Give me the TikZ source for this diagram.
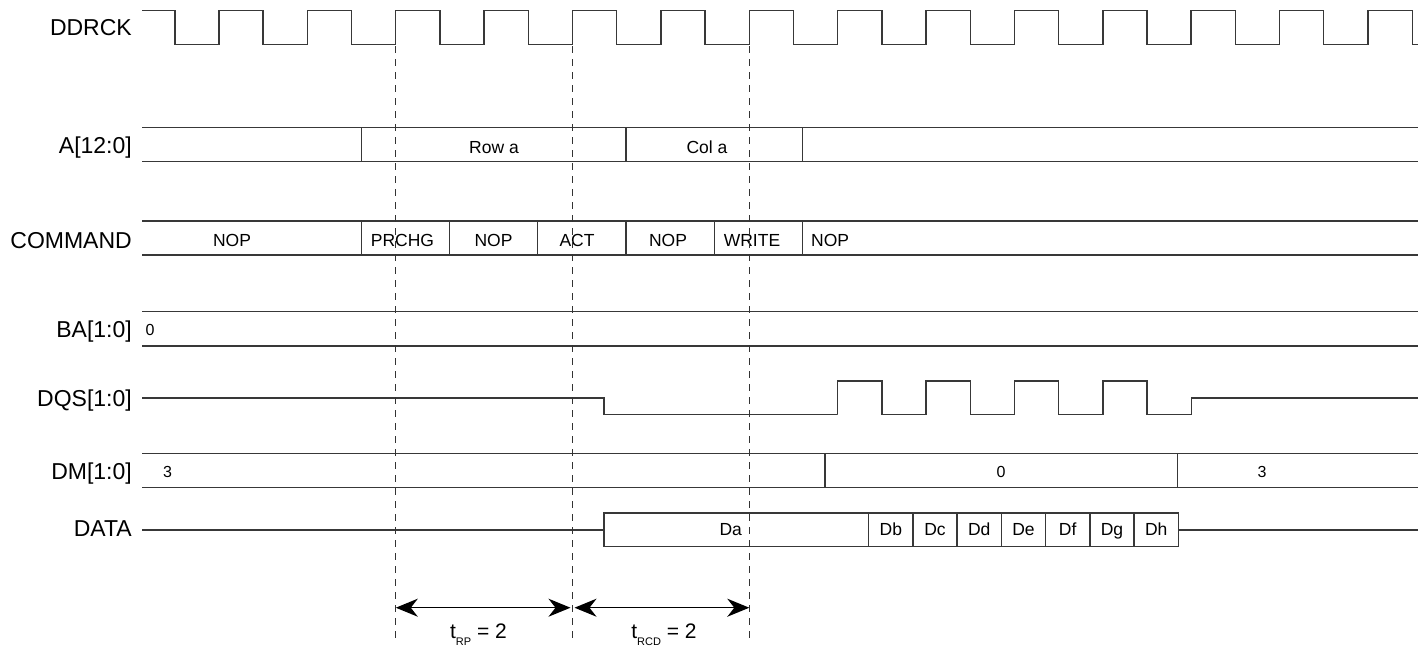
\documentclass[tikz,border=0pt]{standalone}
\usepackage{fontspec}
\setmainfont{Liberation Sans}
\usetikzlibrary{arrows.meta}
\begin{document}
\begin{tikzpicture}[x=1pt,y=-1pt,
  sig/.style={draw=black!78, line width=1.4pt},
  lbl/.style={anchor=base east, font=\fontsize{23}{26}\selectfont, inner sep=0pt},
  val/.style={anchor=base, font=\fontsize{17.5}{20}\selectfont, inner sep=0pt},
  dig/.style={anchor=base, font=\fontsize{16}{18}\selectfont, inner sep=0pt},
  guide/.style={draw=black!80, line width=1.1pt, dash pattern=on 7pt off 6pt},
  dimarrow/.style={draw=black, line width=1.4pt, {Stealth[length=22pt,width=18pt,inset=7pt]}-{Stealth[length=22pt,width=18pt,inset=7pt]}},
  tlab/.style={anchor=base, font=\fontsize{21}{24}\selectfont, inner sep=0pt}
]
\useasboundingbox (0,0) rectangle (1424,649);

% ---------- signal labels ----------
\node[lbl] (lck)  at (132,35)    {DDRCK};
\node[lbl] (la)   at (132,153)   {A[12:0]};
\node[lbl] (lcmd) at (132,248.3) {COMMAND};
\node[lbl] (lba)  at (132,337.5) {BA[1:0]};
\node[lbl] (ldqs) at (132,406.3) {DQS[1:0]};
\node[lbl] (ldm)  at (132,479)   {DM[1:0]};
\node[lbl] (ldat) at (132,536.7) {DATA};

% ---------- clock ----------
\draw[sig] (142,10.7)
  foreach \k in {0,...,13} {
    -- ({174.8+88.38*\k},10.7) -- ({174.8+88.38*\k},44.3)
    -- ({219+88.38*\k},44.3) -- ({219+88.38*\k},10.7)
  }
  -- (1412.2,10.7) -- (1412.2,44.3) -- (1417.7,44.3);

% ---------- A[12:0] ----------
\draw[sig] (142,127.3) -- (1417.7,127.3) (142,161.7) -- (1417.7,161.7);
\foreach \x in {361.7,626,802.7} \draw[sig] (\x,127.3) -- (\x,161.7);
\node[val] (rowa) at (494,153.3) {Row a};
\node[val] (cola) at (707,153.3) {Col a};

% ---------- COMMAND ----------
\draw[sig] (142,221) -- (1417.7,221) (142,255) -- (1417.7,255);
\foreach \x in {361.7,449.3,537.7,626,714.3,802.7} \draw[sig] (\x,221) -- (\x,255);
\node[val] (c1) at (232,246.7)   {NOP};
\node[val] (c2) at (402.5,246.7) {PRCHG};
\node[val] (c3) at (493.5,246.7) {NOP};
\node[val] (c4) at (577,246.7)   {ACT};
\node[val] (c5) at (668,246.7)   {NOP};
\node[val] (c6) at (752,246.7)   {WRITE};
\node[val,anchor=base west] (c7) at (811,246.7) {NOP};

% ---------- BA[1:0] ----------
\draw[sig] (142,311.7) -- (1417.7,311.7) (142,346) -- (1417.7,346);
\node[dig] (ba0) at (150,335) {0};

% ---------- DQS[1:0] ----------
\draw[sig] (142,398) -- (604,398) -- (604,414.3) -- (837.7,414.3)
  foreach \k in {7,8,9,10} {
    -- ({219+88.38*\k},414.3) -- ({219+88.38*\k},381)
    -- ({263.2+88.38*\k},381) -- ({263.2+88.38*\k},414.3)
  }
  -- (1191.2,414.3) -- (1191.2,398) -- (1417.7,398);

% ---------- DM[1:0] ----------
\draw[sig] (142,453.3) -- (1417.7,453.3) (142,487.5) -- (1417.7,487.5);
\foreach \x in {825,1177.7} \draw[sig] (\x,453.3) -- (\x,487.5);
\node[dig] (dm1) at (167.5,477) {3};
\node[dig] (dm2) at (1001,477)  {0};
\node[dig] (dm3) at (1262,477)  {3};

% ---------- DATA ----------
\draw[sig] (142,530) -- (604,530);
\draw[sig] (604,513) rectangle (1178.3,546.7);
\draw[sig] (1178.3,530) -- (1417.7,530);
\foreach \k in {0,...,6} \draw[sig] ({868.7+44.23*\k},513) -- ({868.7+44.23*\k},546.7);
\node[val] (da) at (730.7,535.7) {Da};
\foreach \n [count=\i from 0] in {Db,Dc,Dd,De,Df,Dg,Dh}
  \node[val] (d\n) at ({890.8+44.23*\i},535.7) {\n};

% ---------- guides ----------
\coordinate (g1t) at (395.8,46); \coordinate (g1b) at (395.8,640);
\coordinate (g2t) at (572.5,46); \coordinate (g2b) at (572.5,640);
\coordinate (g3t) at (749.3,46); \coordinate (g3b) at (749.3,640);
\draw[guide] (g1t) -- (g1b);
\draw[guide] (g2t) -- (g2b);
\draw[guide] (g3t) -- (g3b);

% ---------- dimension arrows ----------
\coordinate (a1l) at (395.8,607.7); \coordinate (a1r) at (570.5,607.7);
\coordinate (a2l) at (574.5,607.7); \coordinate (a2r) at (749.3,607.7);
\draw[dimarrow] (a1l) -- (a1r);
\draw[dimarrow] (a2l) -- (a2r);
\node[tlab] (trp)  at (478.5,638) {t\raisebox{-7pt}{\fontsize{11}{11}\selectfont RP} = 2};
\node[tlab] (trcd) at (664,638)   {t\raisebox{-7pt}{\fontsize{11}{11}\selectfont RCD} = 2};
\end{tikzpicture}
\end{document}
